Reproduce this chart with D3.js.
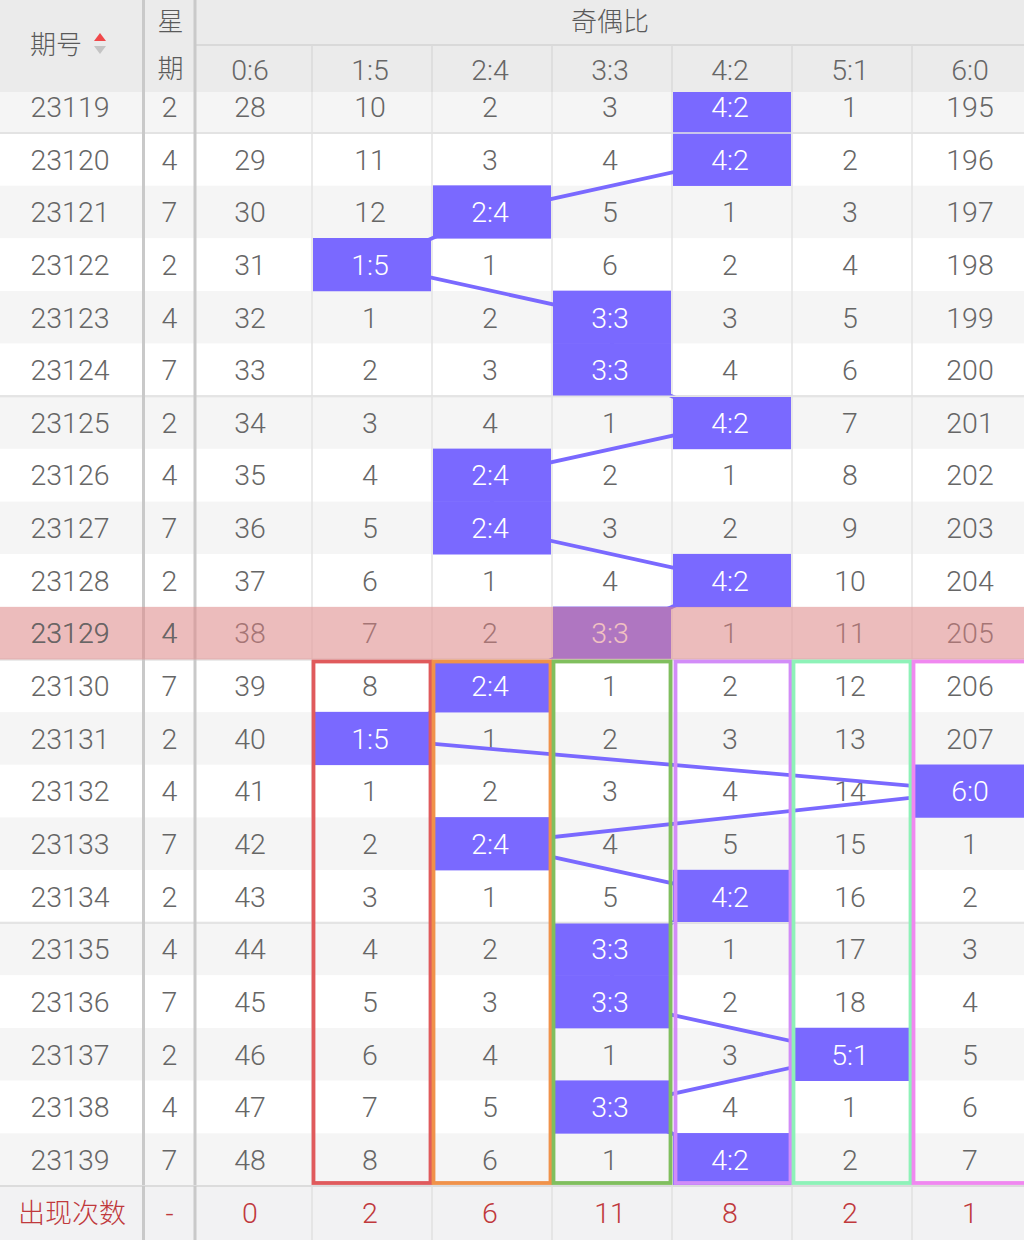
<!DOCTYPE html>
<html><head><meta charset="utf-8">
<script src="https://cdn.jsdelivr.net/npm/d3@7/dist/d3.min.js"></script>
<style>
html,body{margin:0;padding:0;background:#fff;}
svg{display:block;}
text{font-family:Roboto,"Noto Sans CJK SC",sans-serif;font-weight:300;}
</style></head>
<body>
<svg id="chart" width="1024" height="1240"></svg>
<script>
// ---------- data ----------
const issues = ['23119','23120','23121','23122','23123','23124','23125','23126','23127','23128','23129','23130','23131','23132','23133','23134','23135','23136','23137','23138','23139'];
const weekdays = [2,4,7,2,4,7,2,4,7,2,4,7,2,4,7,2,4,7,2,4,7];
const ratios = ['0:6','1:5','2:4','3:3','4:2','5:1','6:0'];
const hitRatio = ['4:2','4:2','2:4','1:5','3:3','3:3','4:2','2:4','2:4','4:2','3:3','2:4','1:5','6:0','2:4','4:2','3:3','3:3','5:1','3:3','4:2'];
// omission values per row (null = hit cell)
const omissions = [
  [28,10,2,3,null,1,195],
  [29,11,3,4,null,2,196],
  [30,12,null,5,1,3,197],
  [31,null,1,6,2,4,198],
  [32,1,2,null,3,5,199],
  [33,2,3,null,4,6,200],
  [34,3,4,1,null,7,201],
  [35,4,null,2,1,8,202],
  [36,5,null,3,2,9,203],
  [37,6,1,4,null,10,204],
  [38,7,2,null,1,11,205],
  [39,8,null,1,2,12,206],
  [40,null,1,2,3,13,207],
  [41,1,2,3,4,14,null],
  [42,2,null,4,5,15,1],
  [43,3,1,5,null,16,2],
  [44,4,2,null,1,17,3],
  [45,5,3,null,2,18,4],
  [46,6,4,1,3,null,5],
  [47,7,5,null,4,1,6],
  [48,8,6,1,null,2,7]
];
const countLabel = '出现次数';
const weekCount = '-';
const counts = [0,2,6,11,8,2,1];
const highlightIssue = '23129';
const boxStartIssue = '23130';
const boxRatios = ['1:5','2:4','3:3','4:2','5:1','6:0'];
const boxColors = ['#e05a5c','#f0924a','#80bf5e','#d28cf8','#8ef2b8','#f088f0'];

// ---------- layout ----------
const W = 1024, H = 1240;
const headerH = 92, rowH = 52.65, firstFullTop = 133;
const svg = d3.select('#chart');

const x = d3.scaleBand().domain(ratios).range([192, 1032]).padding(0);
const y = d3.scaleBand().domain(issues).range([firstFullTop - rowH, firstFullTop - rowH + rowH * issues.length]).padding(0);
const footerTop = y.range()[1];
const issueCX = 70, weekCX = 169.5;
const sep1 = 143.5, sep2 = 195;
const cx = d => x(d) + x.bandwidth() / 2 - 2;

const textGrey = '#666666';
const hitColor = '#7a69ff';
const fs = 28.5;

const body = svg.append('g');

// row backgrounds
body.selectAll('rect.rowbg').data(issues).join('rect')
  .attr('x', 0).attr('width', W)
  .attr('y', d => y(d)).attr('height', y.bandwidth())
  .attr('fill', (d, i) => i % 2 === 0 ? '#f5f5f5' : '#ffffff');

// thin vertical column lines in body
body.selectAll('line.col').data(ratios.slice(1)).join('line')
  .attr('x1', d => x(d)).attr('x2', d => x(d))
  .attr('y1', headerH).attr('y2', H)
  .attr('stroke', '#e3e3e3').attr('stroke-width', 1.5);

// group separators (every 5 rows)
const sepIssues = issues.filter((d, i) => i > 0 && (i - 1) % 5 === 0);
body.selectAll('line.grp').data(sepIssues).join('line')
  .attr('x1', 0).attr('x2', W)
  .attr('y1', d => y(d)).attr('y2', d => y(d))
  .attr('stroke', '#dedede').attr('stroke-width', 2);

// issue and weekday texts
const rowsData = issues.map((iss, i) => ({iss, i, wd: weekdays[i], om: omissions[i], hit: hitRatio[i]}));
body.selectAll('text.iss').data(rowsData).join('text')
  .attr('x', issueCX).attr('y', d => y(d.iss) + y.bandwidth() / 2)
  .attr('dy', '0.36em').attr('text-anchor', 'middle')
  .attr('font-size', fs).attr('fill', textGrey).text(d => d.iss);
body.selectAll('text.wd').data(rowsData).join('text')
  .attr('x', weekCX).attr('y', d => y(d.iss) + y.bandwidth() / 2)
  .attr('dy', '0.36em').attr('text-anchor', 'middle')
  .attr('font-size', fs).attr('fill', textGrey).text(d => d.wd);

// omission numbers
const cellData = [];
rowsData.forEach(r => r.om.forEach((v, j) => { if (v !== null) cellData.push({iss: r.iss, r: ratios[j], v}); }));
body.selectAll('text.om').data(cellData).join('text')
  .attr('x', d => cx(d.r))
  .attr('y', d => y(d.iss) + y.bandwidth() / 2)
  .attr('dy', '0.36em').attr('text-anchor', 'middle')
  .attr('font-size', fs).attr('fill', textGrey).text(d => d.v);

// connecting lines
const linePts = rowsData.map(r => [x(r.hit) + x.bandwidth() / 2, y(r.iss) + y.bandwidth() / 2]);
body.append('path')
  .attr('d', d3.line()(linePts))
  .attr('fill', 'none').attr('stroke', hitColor).attr('stroke-width', 3.8);

// hit blocks
body.selectAll('rect.hit').data(rowsData).join('rect')
  .attr('x', d => x(d.hit) + 1).attr('width', x.bandwidth() - 2)
  .attr('y', d => y(d.iss) - 0.3).attr('height', y.bandwidth() + 0.6)
  .attr('fill', hitColor);
body.selectAll('text.hit').data(rowsData).join('text')
  .attr('x', d => cx(d.hit))
  .attr('y', d => y(d.iss) + y.bandwidth() / 2)
  .attr('dy', '0.36em').attr('text-anchor', 'middle')
  .attr('font-size', fs).attr('fill', '#ffffff').text(d => d.hit);

// redraw group separators on top of blocks
body.selectAll('line.grp2').data(sepIssues).join('line')
  .attr('x1', 0).attr('x2', W)
  .attr('y1', d => y(d)).attr('y2', d => y(d))
  .attr('stroke', '#e4e4e4').attr('stroke-width', 1.5);

// thick separators
[sep1, sep2].forEach(sx => {
  svg.append('line').attr('x1', sx).attr('x2', sx).attr('y1', 0).attr('y2', H)
    .attr('stroke', '#c9c9c9').attr('stroke-width', 3);
});

// highlighted row overlay
svg.append('rect').attr('x', 0).attr('width', W)
  .attr('y', y(highlightIssue)).attr('height', y.bandwidth())
  .attr('fill', 'rgb(228,132,132)').attr('fill-opacity', 0.5);
const hiRow = rowsData.find(r => r.iss === highlightIssue);
svg.append('text').attr('x', issueCX).attr('y', y(highlightIssue) + y.bandwidth() / 2)
  .attr('dy', '0.36em').attr('text-anchor', 'middle').attr('font-size', fs)
  .attr('fill', textGrey).text(hiRow.iss);
svg.append('text').attr('x', weekCX).attr('y', y(highlightIssue) + y.bandwidth() / 2)
  .attr('dy', '0.36em').attr('text-anchor', 'middle').attr('font-size', fs)
  .attr('fill', textGrey).text(hiRow.wd);

// boxes
const boxTop = y(boxStartIssue), boxBottom = footerTop - 3;
svg.selectAll('rect.box').data(boxRatios).join('rect')
  .attr('x', d => x(d) + 1.5 + (d === '4:2' ? 2 : 0)).attr('width', d => x.bandwidth() - 3 - (d === '4:2' ? 2 : 0))
  .attr('y', boxTop + 2).attr('height', boxBottom - boxTop - 2)
  .attr('fill', 'none').attr('stroke', (d, i) => boxColors[i]).attr('stroke-width', 3.8);

// footer
const foot = svg.append('g');
foot.append('rect').attr('x', 0).attr('y', footerTop).attr('width', W).attr('height', H - footerTop).attr('fill', '#f2f2f3');
foot.append('line').attr('x1', 0).attr('x2', W).attr('y1', footerTop).attr('y2', footerTop).attr('stroke', '#dcdcdc').attr('stroke-width', 2);
foot.selectAll('line.fc').data(ratios.slice(1)).join('line')
  .attr('x1', d => x(d)).attr('x2', d => x(d)).attr('y1', footerTop).attr('y2', H)
  .attr('stroke', '#e0e0e0').attr('stroke-width', 1.5);
[sep1, sep2].forEach(sx => {
  foot.append('line').attr('x1', sx).attr('x2', sx).attr('y1', footerTop).attr('y2', H)
    .attr('stroke', '#c9c9c9').attr('stroke-width', 3);
});
const fy = footerTop + (H - footerTop) / 2;
const red = '#c0393c';
foot.append('text').attr('x', issueCX + 2).attr('y', fy).attr('dy', '0.36em').attr('text-anchor', 'middle')
  .attr('font-size', 27).attr('fill', red).attr('font-family', '"Noto Sans CJK SC",sans-serif').text(countLabel);
foot.append('text').attr('x', weekCX).attr('y', fy).attr('dy', '0.36em').attr('text-anchor', 'middle')
  .attr('font-size', fs).attr('fill', red).text(weekCount);
foot.selectAll('text.cnt').data(ratios).join('text')
  .attr('x', d => cx(d))
  .attr('y', fy).attr('dy', '0.36em').attr('text-anchor', 'middle')
  .attr('font-size', fs).attr('fill', red).text((d, i) => counts[i]);

// header
const head = svg.append('g');
head.append('rect').attr('x', 0).attr('y', 0).attr('width', W).attr('height', headerH).attr('fill', '#ebebeb');
head.append('line').attr('x1', sep2).attr('x2', W).attr('y1', 45).attr('y2', 45).attr('stroke', '#d9d9d9').attr('stroke-width', 2);
head.selectAll('line.hc').data(ratios.slice(1)).join('line')
  .attr('x1', d => x(d)).attr('x2', d => x(d)).attr('y1', 45).attr('y2', headerH)
  .attr('stroke', '#dadada').attr('stroke-width', 1.5);
[sep1, sep2].forEach(sx => {
  head.append('line').attr('x1', sx).attr('x2', sx).attr('y1', 0).attr('y2', headerH)
    .attr('stroke', '#c9c9c9').attr('stroke-width', 3);
});
const cjk = '"Noto Sans CJK SC",sans-serif';
head.append('text').attr('x', 56).attr('y', 45).attr('dy', '0.36em').attr('text-anchor', 'middle')
  .attr('font-size', 26).attr('fill', '#5a5a5a').attr('font-family', cjk).attr('font-weight', 400).text('期号');
head.append('path').attr('d', 'M94,41 L106,41 L100,33 Z').attr('fill', '#f0484a');
head.append('path').attr('d', 'M94,46 L106,46 L100,54 Z').attr('fill', '#c4c4c4');
head.append('text').attr('x', weekCX + 1).attr('y', 22).attr('dy', '0.36em').attr('text-anchor', 'middle')
  .attr('font-size', 26).attr('fill', '#5a5a5a').attr('font-family', cjk).attr('font-weight', 400).text('星');
head.append('text').attr('x', weekCX + 1).attr('y', 69).attr('dy', '0.36em').attr('text-anchor', 'middle')
  .attr('font-size', 26).attr('fill', '#5a5a5a').attr('font-family', cjk).attr('font-weight', 400).text('期');
head.append('text').attr('x', 610).attr('y', 22).attr('dy', '0.36em').attr('text-anchor', 'middle')
  .attr('font-size', 26).attr('fill', '#5a5a5a').attr('font-family', cjk).attr('font-weight', 400).text('奇偶比');
head.selectAll('text.rl').data(ratios).join('text')
  .attr('x', d => cx(d))
  .attr('y', 70).attr('dy', '0.36em').attr('text-anchor', 'middle')
  .attr('font-size', fs).attr('fill', '#666').text(d => d);
</script>
</body></html>
